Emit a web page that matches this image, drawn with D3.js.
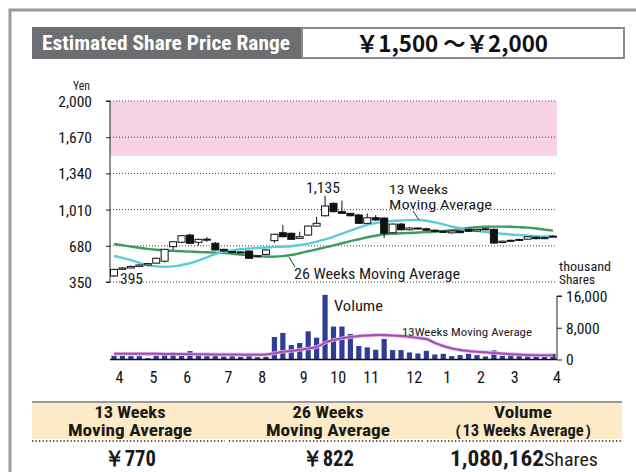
<!DOCTYPE html>
<html><head><meta charset="utf-8">
<script src="https://cdn.jsdelivr.net/npm/d3@7"></script>
<style>
html,body{margin:0;padding:0;background:#fff;}
svg{display:block;font-family:"Liberation Sans Narrow","Roboto Condensed","Open Sans",sans-serif;}
</style></head>
<body>
<svg id="chart" width="636" height="472"></svg>
<script>
// ---------------- DATA ----------------
const priceTicks = [350, 680, 1010, 1340, 1670, 2000];
const priceTickLabels = ["350", "680", "1,010", "1,340", "1,670", "2,000"];
const volumeTicks = [0, 8000, 16000];
const volumeTickLabels = ["0", "8,000", "16,000"];
const monthLabels = ["4","5","6","7","8","9","10","11","12","1","2","3","4"];
const monthWeek = [0.6, 4.6, 8.6, 13.5, 17.5, 22.4, 26.5, 30.4, 35.5, 39.4, 43.4, 47.4, 52.4];
const estimatedRange = [1500, 2000];

const opens  = [405,466,478,492,505,522,540,672,712,778,712,735,703,648,628,624,632,580,602,727,799,794,748,778,860,954,1067,991,976,961,885,936,933,799,878,826,842,835,822,812,798,815,830,815,835,830,710,724,730,740,758,745,762];
const closes = [465,478,492,505,518,566,648,717,772,703,739,740,642,633,625,620,566,590,642,785,763,739,763,860,885,1043,991,976,954,885,936,915,794,878,826,842,835,822,812,808,815,800,812,830,833,705,722,730,738,762,745,755,768];
const highs  = [470,486,500,512,525,572,652,722,778,790,745,760,715,652,632,628,636,596,648,790,870,800,808,865,945,1135,1075,1091,980,968,975,960,938,882,888,850,850,845,828,818,820,822,835,836,840,840,728,736,745,768,765,762,778];
const lows   = [395,462,474,488,500,518,528,640,705,695,680,715,638,628,618,615,560,575,598,708,758,735,745,772,855,948,985,970,948,880,880,910,750,795,820,820,830,818,805,800,792,795,808,810,828,700,705,718,725,735,738,740,758];
const ma13   = [587,570,550,525,505,492,489,492,505,521,545,575,605,625,638,648,655,660,665,670,672,676,687,700,718,738,763,790,818,845,870,888,898,906,911,914,915,908,893,876,856,840,826,815,806,797,790,783,778,773,768,765,763];
const ma26   = [696,685,673,662,652,644,638,634,630,627,624,621,618,614,608,600,592,586,582,581,586,596,612,630,648,665,684,703,722,740,758,772,785,790,794,797,801,805,808,815,822,832,842,850,854,855,855,853,850,846,838,828,818];
const volumes = [930,930,850,850,340,930,1180,1780,1180,2120,1180,1100,1100,760,1020,680,1020,590,680,5670,6690,3640,4150,7110,5500,16300,8300,8300,6440,3390,3050,2450,5170,2370,2370,1780,1520,2200,1270,1440,850,1100,1440,1100,760,2290,930,1180,930,850,850,1020,1440];
const volMA13 = [1450,1450,1440,1430,1420,1420,1400,1380,1360,1340,1320,1300,1280,1260,1240,1230,1220,1220,1250,1600,1950,2150,2450,2750,3150,4200,4900,5350,5650,5900,6050,6150,6150,6050,5900,5700,5450,5150,4200,3400,2800,2400,2150,1950,1800,1650,1500,1350,1250,1150,1100,1080,1080];

const summaryHeaders = [["13 Weeks","Moving Average"],["26 Weeks","Moving Average"],["Volume","（13 Weeks Average）"]];
const summaryValues = ["￥770","￥822","1,080,162"];
const summaryUnit = "Shares";
const titleLabel = "Estimated Share Price Range";
const titleValue = "￥1,500 ～￥2,000";

// ---------------- DRAW ----------------
const svg = d3.select("#chart");
const weeks = d3.range(opens.length);

function txt(xp, yp, s, size, len, opts) {
  const t = svg.append("text").attr("x", xp).attr("y", yp).attr("font-size", size).attr("fill", "#1a1a1a").text(s);
  if (len) t.attr("textLength", len).attr("lengthAdjust", "spacingAndGlyphs");
  if (opts && opts.anchor) t.attr("text-anchor", opts.anchor);
  if (opts && opts.bold) t.attr("font-weight", "bold");
  return t;
}

// outer frame
svg.append("rect").attr("x",10).attr("y",10).attr("width",700).attr("height",600)
  .attr("fill","#fff").attr("stroke","#9b9b9b").attr("stroke-width",3);

// title
svg.append("rect").attr("x",32).attr("y",27).attr("width",270).attr("height",32).attr("fill","#6d6e71");
svg.append("rect").attr("x",302).attr("y",28).attr("width",322).attr("height",30)
  .attr("fill","#fff").attr("stroke","#8a8a8a").attr("stroke-width",2);
svg.append("text").attr("x",42).attr("y",50).attr("fill","#fff").attr("font-weight","bold")
  .attr("font-size",21).attr("textLength",248).attr("lengthAdjust","spacingAndGlyphs").text(titleLabel);
svg.append("text").attr("x",452).attr("y",52).attr("text-anchor","middle").attr("fill","#111")
  .attr("font-weight","bold").attr("font-size",23).attr("font-family","'Noto Sans CJK JP',sans-serif")
  .attr("textLength",192).attr("lengthAdjust","spacingAndGlyphs").text(titleValue);

// scales
const x = d3.scaleLinear().domain([0,52]).range([114,553]);
const y = d3.scaleLinear().domain([350,2000]).range([282,101]);
const yv = d3.scaleLinear().domain([0,16000]).range([359.5,296]);
const xL = 110, xR = 557;

// estimated range band
svg.append("rect").attr("x",xL).attr("width",xR-xL)
  .attr("y",y(estimatedRange[1])).attr("height",y(estimatedRange[0])-y(estimatedRange[1]))
  .attr("fill","#f8d3e5");

// gridlines
svg.append("g").selectAll("line").data(priceTicks).join("line")
  .attr("x1",xL).attr("x2",xR).attr("y1",d=>y(d)).attr("y2",d=>y(d))
  .attr("stroke","#444").attr("stroke-width",1).attr("stroke-dasharray","1,2");

// left axis
const yAxis = d3.axisLeft(y).tickValues(priceTicks).tickSize(4).tickFormat((d,i)=>priceTickLabels[i]);
const ga = svg.append("g").attr("transform",`translate(${xL},0)`).call(yAxis);
ga.select(".domain").attr("stroke","#222").attr("d",`M-4,${y(2000)}H0V${y(350)}H-4`);
ga.selectAll(".tick line").attr("stroke","#222");
ga.selectAll(".tick text").attr("font-size",15.5).attr("fill","#111").attr("x",-18).attr("dy","0.35em")
  .attr("font-family","'Liberation Sans Narrow','Roboto Condensed',sans-serif");
txt(90, 90, "Yen", 12, 17, {anchor:"end"});

// moving averages
const line = d3.line().x((d,i)=>x(i)).y(d=>y(d)).curve(d3.curveCatmullRom);
svg.append("path").attr("d",line(ma26)).attr("fill","none").attr("stroke","#3c9a63").attr("stroke-width",2.4);
svg.append("path").attr("d",line(ma13)).attr("fill","none").attr("stroke","#5ccbdc").attr("stroke-width",2.4);

// candlesticks
const cw = 7;
const cg = svg.append("g");
cg.selectAll("line").data(weeks).join("line")
  .attr("x1",i=>x(i)).attr("x2",i=>x(i)).attr("y1",i=>y(highs[i])).attr("y2",i=>y(lows[i]))
  .attr("stroke","#111").attr("stroke-width",1);
cg.selectAll("rect").data(weeks).join("rect")
  .attr("x",i=>x(i)-cw/2).attr("width",cw)
  .attr("y",i=>y(Math.max(opens[i],closes[i])))
  .attr("height",i=>Math.max(1,Math.abs(y(opens[i])-y(closes[i]))))
  .attr("fill",i=>closes[i]>=opens[i]?"#fff":"#111")
  .attr("stroke","#111").attr("stroke-width",1);

// annotations
txt(306, 193, "1,135", 15, 34);
txt(120, 284, "395", 15, 23);
txt(389, 194, "13 Weeks", 13.5, 59);
txt(389, 209, "Moving Average", 13.5, 103);
svg.append("line").attr("x1",413).attr("y1",211).attr("x2",419).attr("y2",220).attr("stroke","#333");
txt(294, 279, "26 Weeks Moving Average", 15, 166);
svg.append("line").attr("x1",289).attr("y1",257).attr("x2",295).attr("y2",267).attr("stroke","#333");

// volume
txt(559, 271, "thousand", 12, 52);
txt(559, 284, "Shares", 12, 36);
svg.append("g").selectAll("rect").data(weeks).join("rect")
  .attr("x",i=>x(i)-2.6).attr("width",5.2)
  .attr("y",i=>yv(volumes[i])).attr("height",i=>yv(0)-yv(volumes[i]))
  .attr("fill","#2f3d96");
const vline = d3.line().x((d,i)=>x(i)).y(d=>yv(d)).curve(d3.curveCatmullRom);
svg.append("path").attr("d",vline(volMA13)).attr("fill","none").attr("stroke","#e0b4e6").attr("stroke-width",3.6);
svg.append("path").attr("d",vline(volMA13)).attr("fill","none").attr("stroke","#a04fb2").attr("stroke-width",2);
svg.append("line").attr("x1",xL).attr("x2",xR).attr("y1",yv(0)).attr("y2",yv(0)).attr("stroke","#111").attr("stroke-width",1.5);
const vAxis = d3.axisRight(yv).tickValues(volumeTicks).tickSize(5).tickFormat((d,i)=>volumeTickLabels[i]);
const gv = svg.append("g").attr("transform",`translate(${xR},0)`).call(vAxis);
gv.select(".domain").attr("stroke","#222").attr("d",`M5,${yv(16000)}H0V${yv(0)}`);
gv.selectAll(".tick line").attr("stroke","#222");
gv.selectAll(".tick text").attr("font-size",15.5).attr("fill","#111").attr("x",9).attr("dy","0.35em")
  .attr("font-family","'Liberation Sans Narrow','Roboto Condensed',sans-serif");
txt(334, 311, "Volume", 14.5, 49);
txt(402, 336, "13Weeks Moving Average", 11.5, 130);

// month axis
const xAxis = d3.axisBottom(x).tickValues(monthWeek).tickSize(0).tickFormat((d,i)=>monthLabels[i]);
const gx = svg.append("g").attr("transform","translate(0,369)").call(xAxis);
gx.select(".domain").remove();
gx.selectAll(".tick text").attr("font-size",16).attr("fill","#111")
  .attr("font-family","'Liberation Sans Narrow','Roboto Condensed',sans-serif");

// summary table
svg.append("rect").attr("x",32).attr("y",402).attr("width",590).attr("height",37).attr("fill","#fdebc7");
svg.append("line").attr("x1",32).attr("x2",622).attr("y1",402).attr("y2",402).attr("stroke","#9a9a9a").attr("stroke-width",2);
const cols = [130, 328, 523];
const segs = [[32,225],[229,423],[427,622]];
segs.forEach(s=>svg.append("line").attr("x1",s[0]).attr("x2",s[1]).attr("y1",441).attr("y2",441)
  .attr("stroke","#222").attr("stroke-width",1.3).attr("stroke-dasharray","1.3,2.2"));
const headLens = [[71,124],[71,124],[58,154]];
summaryHeaders.forEach((h,i)=>{
  txt(cols[i], 418, h[0], 16, headLens[i][0], {anchor:"middle", bold:true});
  txt(cols[i], 436, h[1], 16, headLens[i][1], {anchor:"middle", bold:true});
});
txt(cols[0], 466, summaryValues[0], 22, 52, {anchor:"middle", bold:true});
txt(cols[1], 466, summaryValues[1], 22, 52, {anchor:"middle", bold:true});
txt(450, 466, summaryValues[2], 22, 94, {bold:true});
txt(544, 466, summaryUnit, 18, 54);
</script>
</body></html>
